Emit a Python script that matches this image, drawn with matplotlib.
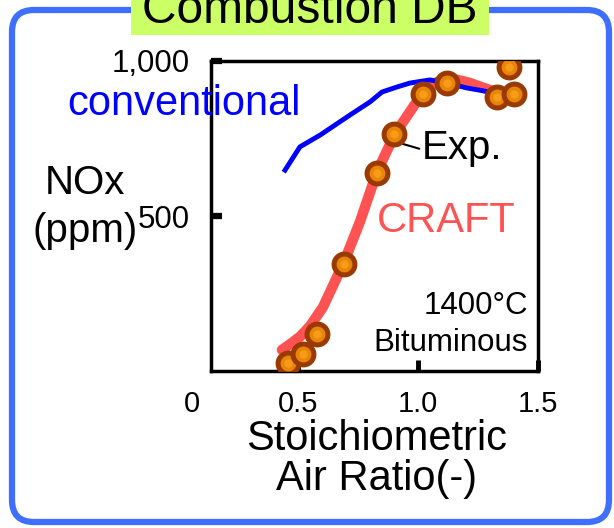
import matplotlib
matplotlib.use("Agg")
import matplotlib.pyplot as plt
from matplotlib.patches import FancyBboxPatch, Rectangle

plt.rcParams["font.family"] = ["Liberation Sans", "DejaVu Sans"]

# conventional model (blue)
conv_x = [0.446, 0.508, 0.592, 0.717, 0.80, 0.85, 0.912, 0.967, 1.05, 1.12, 1.204, 1.30, 1.342]
conv_y = [648, 723, 761, 826, 868, 900, 916, 929, 939, 929, 913, 900, 897]

# CRAFT model (red)
craft_x = [0.433, 0.47, 0.51, 0.55, 0.604, 0.692, 0.758, 0.829, 0.904, 1.008, 1.079, 1.133, 1.217, 1.30, 1.342]
craft_y = [68, 88, 112, 145, 206, 352, 481, 642, 765, 884, 932, 945, 929, 906, 897]

# experiments
exp_x = [0.46, 0.52, 0.58, 0.69, 0.83, 0.90, 1.02, 1.12, 1.33, 1.40, 1.38]
exp_y = [25, 55, 120, 345, 640, 765, 895, 930, 885, 895, 980]

xticks = [0.5, 1.0, 1.5]
xtick_labels = ["0.5", "1.0", "1.5"]
yticks = [500, 1000]
ytick_labels = ["500", "1,000"]

fig = plt.figure(figsize=(6.14, 5.28), dpi=100)
inch = fig.dpi_scale_trans

# rounded blue frame + title tab
frame = FancyBboxPatch((0.12, 0.06), 5.97, 5.12, boxstyle="round,pad=0,rounding_size=0.22",
                       transform=inch, facecolor="none", edgecolor="#3F6FFF", linewidth=4.5, zorder=0)
fig.patches.append(frame)
tab = Rectangle((1.31, 4.93), 3.58, 0.5, transform=inch, facecolor="#CCFF66", edgecolor="none", zorder=1)
fig.patches.append(tab)
fig.text(3.10, 5.05, "Combustion DB", transform=inch, fontsize=34.5, ha="center", va="baseline")

ax = fig.add_axes([211 / 614, 1 - 371 / 528, 327 / 614, 310 / 528], zorder=2)
ax.patch.set_alpha(0)

ax.plot(craft_x, craft_y, color="#FF5252", lw=7.5, zorder=2, solid_capstyle="round")
ax.plot(conv_x, conv_y, color="#0000FF", lw=3.5, zorder=3)
ax.plot(exp_x, exp_y, ls="none", marker="o", ms=15, mfc="#E8860A", mec="#9A3A00", mew=3.6, zorder=4)
ax.plot(exp_x, exp_y, ls="none", marker="o", ms=6, mfc="#FFA520", mec="none", alpha=0.7, zorder=5)

ax.set_xlim(0.1375, 1.5)
ax.set_ylim(0, 1000)
ax.set_xticks(xticks, xtick_labels)
ax.set_yticks(yticks, ytick_labels)
ax.tick_params(axis="x", direction="in", length=8, width=3.5, labelsize=21, pad=14)
ax.tick_params(axis="y", direction="in", length=8, width=4.5, labelsize=22.5, pad=15)
for s in ax.spines.values():
    s.set_linewidth(2.5)

ax.annotate("Exp.", xy=(0.917, 737), xytext=(1.017, 685), fontsize=29, ha="left", va="baseline",
            arrowprops=dict(arrowstyle="-", color="black", lw=1.5, shrinkA=0, shrinkB=0, relpos=(0, 0.45)))
ax.text(0.97, 0.185, "1400°C", transform=ax.transAxes, fontsize=22.5, ha="right", va="baseline")
ax.text(0.97, 0.065, "Bituminous", transform=ax.transAxes, fontsize=22.5, ha="right", va="baseline")

# labels placed like on the slide
fig.text(67 / 614, 1 - 115 / 528, "conventional", color="#0000FF", fontsize=30, ha="left", va="baseline")
fig.text(377 / 614, 1 - 232 / 528, "CRAFT", color="#FF5252", fontsize=30, ha="left", va="baseline")
fig.text(85 / 614, 1 - 207 / 528, "NOx\n(ppm)", fontsize=29, ha="center", va="center", linespacing=1.3)
fig.text(192 / 614, 1 - 404 / 528, "0", fontsize=21, ha="center", va="center")
fig.text(377 / 614, 1 - 490 / 528, "Stoichiometric\nAir Ratio(-)", fontsize=30, ha="center",
         va="baseline", linespacing=1.0, multialignment="center")

fig.savefig("out.png", dpi=100)
